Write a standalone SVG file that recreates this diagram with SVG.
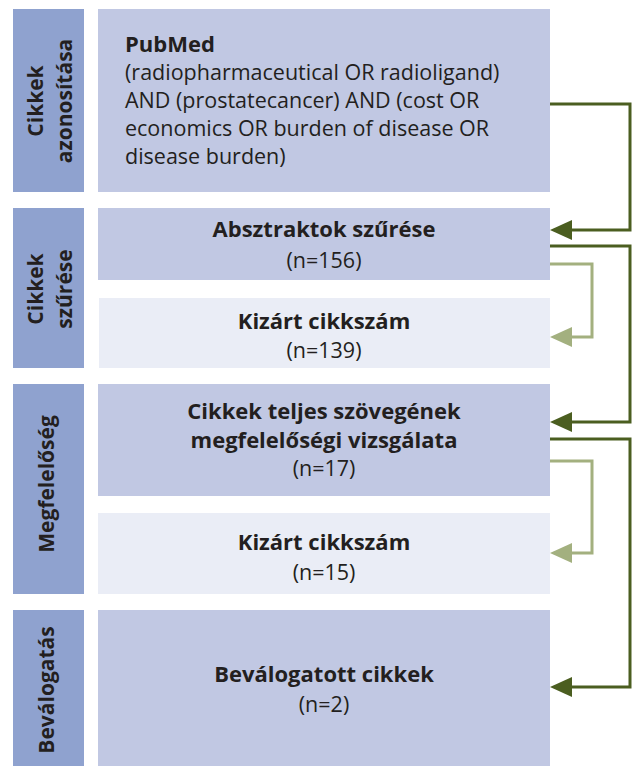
<svg xmlns="http://www.w3.org/2000/svg" width="632" height="766" viewBox="0 0 632 766">
<defs>
<style>
.side{fill:#8fa2cf}
.main{fill:#c1c8e3}
.light{fill:#eaedf6}
text{font-family:"Open Sans",Lato,"Liberation Sans",sans-serif;fill:#231f20;font-size:21.5px}
.b{font-weight:bold;font-size:22px}
.s{font-weight:bold;font-size:21px}
.c{text-anchor:middle}
.dark{fill:none;stroke:#4b5e20;stroke-width:3}
.lite{fill:none;stroke:#a3b07f;stroke-width:3}
</style>
<marker id="ad" viewBox="0 0 22 20" refX="0" refY="10" markerWidth="22" markerHeight="20" markerUnits="userSpaceOnUse" orient="auto"><path d="M0,0 L22,10 L0,20 Z" fill="#4b5e20"/></marker>
<marker id="al" viewBox="0 0 22 20" refX="0" refY="10" markerWidth="22" markerHeight="20" markerUnits="userSpaceOnUse" orient="auto"><path d="M0,0 L22,10 L0,20 Z" fill="#a3b07f"/></marker>
</defs>
<rect width="632" height="766" fill="#ffffff"/>
<g id="stage1">
<rect class="side" x="13" y="9" width="71" height="183"/>
<text class="s c" transform="translate(43,101) rotate(-90)">Cikkek</text>
<text class="s c" transform="translate(72,101) rotate(-90)">azonosítása</text>
</g>
<g id="pubmed">
<rect class="main" x="98" y="9" width="452" height="183"/>
<text class="b" x="125" y="52">PubMed</text>
<text x="125" y="80">(radiopharmaceutical OR radioligand)</text>
<text x="125" y="108">AND (prostatecancer) AND (cost OR</text>
<text x="125" y="136">economics OR burden of disease OR</text>
<text x="125" y="164">disease burden)</text>
</g>
<g id="stage2">
<rect class="side" x="13" y="208" width="71" height="160"/>
<text class="s c" transform="translate(43,289) rotate(-90)">Cikkek</text>
<text class="s c" transform="translate(72,289) rotate(-90)">szűrése</text>
</g>
<g id="abstracts">
<rect class="main" x="98" y="208" width="452" height="72"/>
<text class="b c" x="324" y="237">Absztraktok szűrése</text>
<text class="c" x="324" y="268">(n=156)</text>
</g>
<g id="excluded1">
<rect class="light" x="99" y="298" width="451" height="70"/>
<text class="b c" x="324" y="329">Kizárt cikkszám</text>
<text class="c" x="324" y="358">(n=139)</text>
</g>
<g id="stage3">
<rect class="side" x="13" y="384" width="71" height="210"/>
<text class="s c" transform="translate(54,484) rotate(-90)">Megfelelőség</text>
</g>
<g id="fulltext">
<rect class="main" x="98" y="384" width="452" height="112"/>
<text class="b c" x="324" y="419">Cikkek teljes szövegének</text>
<text class="b c" x="324" y="448">megfelelőségi vizsgálata</text>
<text class="c" x="324" y="476">(n=17)</text>
</g>
<g id="excluded2">
<rect class="light" x="98" y="513" width="452" height="81"/>
<text class="b c" x="324" y="550">Kizárt cikkszám</text>
<text class="c" x="324" y="580">(n=15)</text>
</g>
<g id="stage4">
<rect class="side" x="13" y="610" width="71" height="156"/>
<text class="s c" transform="translate(54,690) rotate(-90)">Beválogatás</text>
</g>
<g id="selected">
<rect class="main" x="98" y="610" width="452" height="156"/>
<text class="b c" x="324" y="682">Beválogatott cikkek</text>
<text class="c" x="324" y="712">(n=2)</text>
</g>
<g id="connectors">
<path class="dark" d="M550,104 H630 V230 H572" marker-end="url(#ad)"/>
<path class="dark" d="M550,246 H630 V422 H572" marker-end="url(#ad)"/>
<path class="dark" d="M550,439 H630 V687 H572" marker-end="url(#ad)"/>
<path class="lite" d="M550,264 H592 V337 H572" marker-end="url(#al)"/>
<path class="lite" d="M550,461 H592 V553 H572" marker-end="url(#al)"/>
</g>
</svg>
